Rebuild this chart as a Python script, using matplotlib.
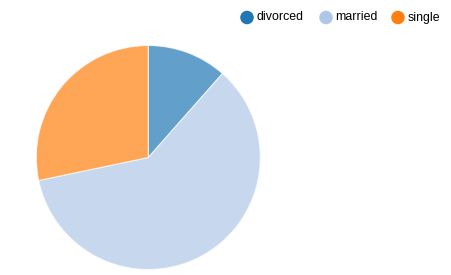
import matplotlib
matplotlib.use("Agg")
import matplotlib.pyplot as plt

# estado civil (bank marketing)
categorias = ["divorced", "married", "single"]
valores = [5207, 27214, 12790]
colores = ["#1f77b4", "#aec7e8", "#ff7f0e"]

W, H = 452, 275
fig = plt.figure(figsize=(W / 100, H / 100), dpi=100)

# pie: centro ~ (148, 157) px, radio ~112 px
cx, cy, r = 148.3, 157.5, 112
ax = fig.add_axes([(cx - r) / W, (H - cy - r) / H, 2 * r / W, 2 * r / H])
ax.pie(valores, colors=colores, startangle=90, counterclock=False, radius=1,
       wedgeprops=dict(edgecolor="white", linewidth=0.8, alpha=0.7))
ax.set_xlim(-1, 1)
ax.set_ylim(-1, 1)
ax.axis("off")

# leyenda arriba a la derecha
leg = fig.add_axes([0, 0, 1, 1])
leg.set_xlim(0, W)
leg.set_ylim(H, 0)
leg.axis("off")
xs = [247, 326, 398]
for x, nombre, c in zip(xs, categorias, colores):
    leg.scatter([x], [17.5], s=95, color=c, edgecolors="none")
    leg.text(x + 9.5, 17.5, nombre, fontsize=8.9, family="Liberation Sans",
             va="center", ha="left", color="#000000")

fig.savefig("out.png", dpi=100)
